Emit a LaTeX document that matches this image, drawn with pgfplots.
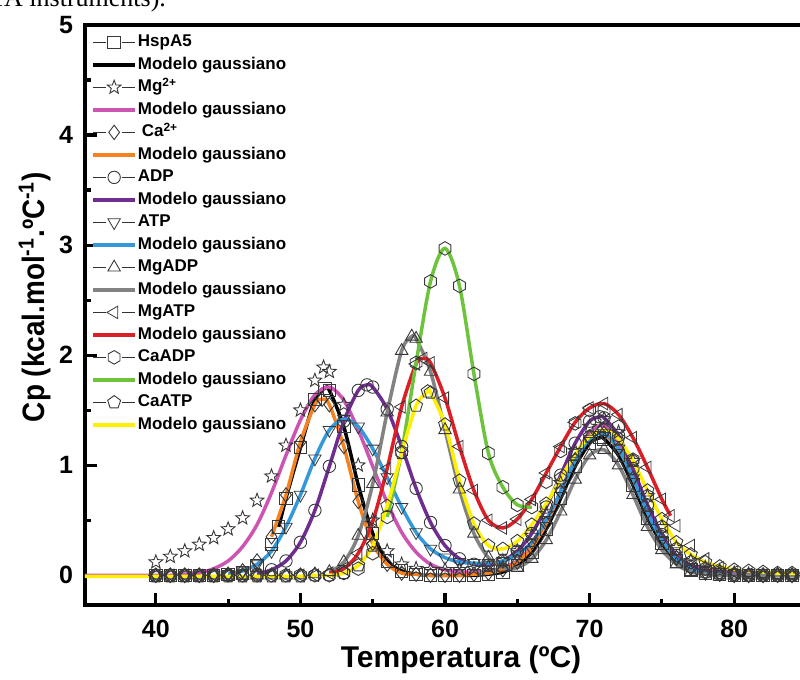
\documentclass[border=0pt]{standalone}
\usepackage{fontspec}
\setmainfont{Liberation Sans}
\newfontfamily\capfont{Liberation Serif}
\newfontfamily\narrowbold[FakeStretch=0.9]{Liberation Sans}
\usepackage{pgfplots}
\usepackage{pgfplotstable}
\pgfplotsset{compat=1.18}

\definecolor{cmag}{RGB}{204,85,180}
\definecolor{corg}{RGB}{245,130,32}
\definecolor{cpur}{RGB}{112,45,145}
\definecolor{cblu}{RGB}{52,152,219}
\definecolor{cgry}{RGB}{130,130,130}
\definecolor{cred}{RGB}{220,30,38}
\definecolor{cgrn}{RGB}{110,195,60}
\definecolor{cyel}{RGB}{255,240,0}

% open star and hexagon marks
\pgfdeclareplotmark{ostar}{%
  \pgfpathmoveto{\pgfpointpolar{90}{\pgfplotmarksize}}%
  \pgfpathlineto{\pgfpointpolar{126}{0.42\pgfplotmarksize}}%
  \pgfpathlineto{\pgfpointpolar{162}{\pgfplotmarksize}}%
  \pgfpathlineto{\pgfpointpolar{198}{0.42\pgfplotmarksize}}%
  \pgfpathlineto{\pgfpointpolar{234}{\pgfplotmarksize}}%
  \pgfpathlineto{\pgfpointpolar{270}{0.42\pgfplotmarksize}}%
  \pgfpathlineto{\pgfpointpolar{306}{\pgfplotmarksize}}%
  \pgfpathlineto{\pgfpointpolar{342}{0.42\pgfplotmarksize}}%
  \pgfpathlineto{\pgfpointpolar{18}{\pgfplotmarksize}}%
  \pgfpathlineto{\pgfpointpolar{54}{0.42\pgfplotmarksize}}%
  \pgfpathclose\pgfusepathqstroke}
\pgfdeclareplotmark{hexa}{%
  \pgfpathmoveto{\pgfpointpolar{90}{\pgfplotmarksize}}%
  \pgfpathlineto{\pgfpointpolar{150}{\pgfplotmarksize}}%
  \pgfpathlineto{\pgfpointpolar{210}{\pgfplotmarksize}}%
  \pgfpathlineto{\pgfpointpolar{270}{\pgfplotmarksize}}%
  \pgfpathlineto{\pgfpointpolar{330}{\pgfplotmarksize}}%
  \pgfpathlineto{\pgfpointpolar{30}{\pgfplotmarksize}}%
  \pgfpathclose\pgfusepathqstroke}

\pgfplotstableread[row sep=\\]{
T C\\
35 0\\ 36 0\\ 37 0\\ 38 0\\ 39 0\\ 40 0\\ 41 0\\ 42 0\\ 43 0\\ 44 0\\ 45 0.01\\ 46 0.02\\
47 0.09\\ 48 0.28\\ 48.5 0.44\\ 49 0.70\\ 50 1.16\\ 51 1.60\\ 51.7 1.70\\ 52 1.68\\ 53 1.35\\
54 0.82\\ 55 0.38\\ 56 0.13\\ 57 0.04\\ 58 0.01\\ 59 0\\ 60 0\\ 61 0\\ 62 0\\ 63 0.01\\
64 0.03\\ 65 0.09\\ 66 0.21\\ 67 0.42\\ 68 0.70\\ 69 0.99\\ 70 1.20\\ 70.7 1.25\\ 71 1.24\\
72 1.09\\ 73 0.82\\ 74 0.52\\ 75 0.29\\ 76 0.13\\ 77 0.05\\ 78 0.02\\ 79 0.01\\ 80 0\\
81 0\\ 82 0\\ 83 0\\ 84 0\\ 85 0\\ 86 0\\
}\hsp

\pgfplotstableread[row sep=\\]{
T C\\
35 -0.04\\ 36 0\\ 37 0.03\\ 38 0.06\\ 39 0.09\\ 40 0.12\\ 41 0.17\\ 42 0.22\\ 43 0.28\\
44 0.34\\ 45 0.42\\ 46 0.52\\ 47 0.68\\ 48 0.90\\ 49 1.18\\ 50 1.50\\ 51 1.77\\ 51.6 1.89\\
52 1.85\\ 53 1.55\\ 54 1.00\\ 55 0.50\\ 56 0.22\\ 57 0.10\\ 58 0.06\\ 59 0.05\\ 60 0.05\\
61 0.05\\ 62 0.06\\ 63 0.08\\ 64 0.13\\ 65 0.22\\ 66 0.36\\ 67 0.56\\ 68 0.84\\ 69 1.13\\
70 1.35\\ 71 1.42\\ 72 1.30\\ 73 1.04\\ 74 0.72\\ 75 0.44\\ 76 0.25\\ 77 0.13\\ 78 0.07\\
79 0.04\\ 80 0.02\\ 81 0.01\\ 82 0\\ 83 0\\ 84 0\\ 85 0\\ 86 0\\
}\mgdata

\pgfplotstableread[row sep=\\]{
T C\\
35 0\\ 36 0\\ 37 0\\ 38 0\\ 39 0\\ 40 0\\ 41 0\\ 42 0.01\\ 43 0.02\\ 44 0.06\\ 45 0.13\\
46 0.26\\ 47 0.46\\ 48 0.75\\ 49 1.09\\ 50 1.41\\ 51 1.64\\ 52 1.71\\ 53 1.59\\ 54 1.32\\
55 0.99\\ 56 0.66\\ 57 0.39\\ 58 0.21\\ 59 0.10\\ 60 0.05\\ 61 0.03\\ 62 0.03\\ 63 0.04\\
64 0.07\\ 65 0.13\\ 66 0.26\\ 67 0.47\\ 68 0.76\\ 69 1.07\\ 70 1.30\\ 71 1.36\\ 72 1.21\\
73 0.92\\ 74 0.60\\ 75 0.34\\ 76 0.17\\ 77 0.09\\ 78 0.05\\ 79 0.03\\ 80 0.02\\ 81 0.01\\
82 0\\ 83 0\\ 84 0\\ 85 0\\ 86 0\\
}\mgfit

\pgfplotstableread[row sep=\\]{
T C\\
35 0\\ 36 0\\ 37 0\\ 38 0\\ 39 0\\ 40 0\\ 41 0\\ 42 0\\ 43 0\\ 44 0\\ 45 0.01\\ 46 0.04\\
47 0.13\\ 48 0.35\\ 49 0.73\\ 50 1.21\\ 51 1.55\\ 51.5 1.60\\ 52 1.55\\ 53 1.17\\ 54 0.67\\
55 0.29\\ 56 0.10\\ 57 0.02\\ 58 0.01\\ 59 0\\ 60 0\\ 61 0\\ 62 0.01\\ 63 0.02\\ 64 0.05\\
65 0.12\\ 66 0.25\\ 67 0.47\\ 68 0.76\\ 69 1.05\\ 70 1.25\\ 70.7 1.30\\ 71 1.29\\ 72 1.15\\
73 0.88\\ 74 0.58\\ 75 0.33\\ 76 0.16\\ 77 0.07\\ 78 0.03\\ 79 0.01\\ 80 0\\ 81 0\\ 82 0\\
83 0\\ 84 0\\ 85 0\\ 86 0\\
}\ca

\pgfplotstableread[row sep=\\]{
T C\\
35 0\\ 36 0\\ 37 0\\ 38 0\\ 39 0\\ 40 0\\ 41 0\\ 42 0\\ 43 0\\ 44 0\\ 45 0\\ 46 0\\
47 0.01\\ 48 0.05\\ 49 0.13\\ 50 0.30\\ 51 0.59\\ 52 0.99\\ 53 1.40\\ 54 1.68\\ 54.6 1.73\\
55 1.71\\ 56 1.51\\ 57 1.17\\ 58 0.79\\ 59 0.48\\ 60 0.27\\ 61 0.15\\ 62 0.10\\ 63 0.09\\
64 0.13\\ 65 0.22\\ 66 0.38\\ 67 0.62\\ 68 0.91\\ 69 1.20\\ 70 1.40\\ 70.7 1.44\\ 71 1.43\\
72 1.27\\ 73 0.97\\ 74 0.64\\ 75 0.37\\ 76 0.18\\ 77 0.08\\ 78 0.03\\ 79 0.01\\ 80 0\\
81 0\\ 82 0\\ 83 0\\ 84 0\\ 85 0\\ 86 0\\
}\adp

\pgfplotstableread[row sep=\\]{
T C\\
35 0\\ 36 0\\ 37 0\\ 38 0\\ 39 0\\ 40 0\\ 41 0\\ 42 0\\ 43 0\\ 44 0\\ 45 0.01\\ 46 0.04\\
47 0.10\\ 48 0.22\\ 49 0.44\\ 50 0.73\\ 51 1.06\\ 52 1.32\\ 53 1.42\\ 54 1.35\\ 55 1.15\\
56 0.89\\ 57 0.62\\ 58 0.39\\ 59 0.24\\ 60 0.16\\ 61 0.12\\ 62 0.11\\ 63 0.11\\ 64 0.13\\
65 0.19\\ 66 0.30\\ 67 0.50\\ 68 0.76\\ 69 1.04\\ 70 1.24\\ 71 1.29\\ 72 1.15\\ 73 0.88\\
74 0.57\\ 75 0.32\\ 76 0.15\\ 77 0.06\\ 78 0.02\\ 79 0.01\\ 80 0\\ 81 0\\ 82 0\\ 83 0\\
84 0\\ 85 0\\ 86 0\\
}\atp

\pgfplotstableread[row sep=\\]{
T C\\
35 0\\ 36 0\\ 37 0\\ 38 0\\ 39 0\\ 40 0\\ 41 0\\ 42 0\\ 43 0\\ 44 0\\ 45 0\\ 46 0\\ 47 0\\
48 0\\ 49 0\\ 50 0\\ 51 0.01\\ 52 0.03\\ 53 0.12\\ 54 0.36\\ 55 0.83\\ 56 1.48\\ 57 2.04\\
57.7 2.17\\ 58 2.15\\ 59 1.85\\ 60 1.32\\ 61 0.78\\ 62 0.38\\ 63 0.16\\ 64 0.07\\ 65 0.07\\
66 0.15\\ 67 0.32\\ 68 0.58\\ 69 0.87\\ 70 1.09\\ 71 1.14\\ 72 1.00\\ 73 0.73\\ 74 0.44\\
75 0.23\\ 76 0.10\\ 77 0.03\\ 78 0.01\\ 79 0\\ 80 0\\ 81 0\\ 82 0\\ 83 0\\ 84 0\\ 85 0\\ 86 0\\
}\mgadp

\pgfplotstableread[row sep=\\]{
T C\\
35 0\\ 36 0\\ 37 0\\ 38 0\\ 39 0\\ 40 0\\ 41 0\\ 42 0\\ 43 0\\ 44 0\\ 45 0\\ 46 0\\ 47 0\\
48 0\\ 49 0\\ 50 0\\ 51 0\\ 52 0.02\\ 53 0.06\\ 54 0.20\\ 55 0.49\\ 56 0.97\\ 57 1.53\\
58 1.92\\ 58.5 1.97\\ 59 1.93\\ 60 1.61\\ 61 1.17\\ 62 0.77\\ 63 0.50\\ 64 0.43\\ 65 0.51\\
66 0.69\\ 67 0.93\\ 68 1.17\\ 69 1.39\\ 70 1.52\\ 71 1.56\\ 72 1.46\\ 73 1.25\\ 74 0.98\\
75 0.69\\ 75.6 0.54\\ 76 0.45\\ 77 0.27\\ 78 0.15\\ 79 0.07\\ 80 0.03\\ 81 0.01\\ 82 0\\
83 0\\ 84 0\\ 85 0\\ 86 0\\
}\mgatp

\pgfplotstableread[row sep=\\]{
T C\\
35 0\\ 36 0\\ 37 0\\ 38 0\\ 39 0\\ 40 0\\ 41 0\\ 42 0\\ 43 0\\ 44 0\\ 45 0\\ 46 0\\ 47 0\\
48 0\\ 49 0\\ 50 0\\ 51 0\\ 52 0\\ 53 0.02\\ 54 0.06\\ 55 0.20\\ 56 0.53\\ 57 1.12\\ 58 1.93\\
59 2.67\\ 60 2.97\\ 61 2.63\\ 62 1.83\\ 63 1.11\\ 64 0.80\\ 65 0.64\\ 66 0.62\\ 67 0.85\\
68 1.13\\ 69 1.38\\ 70 1.50\\ 71 1.50\\ 72 1.35\\ 73 1.05\\ 74 0.72\\ 75 0.44\\ 76 0.24\\
77 0.12\\ 78 0.06\\ 79 0.03\\ 80 0.01\\ 81 0\\ 82 0\\ 83 0\\ 84 0\\ 85 0\\ 86 0\\
}\caadp

\pgfplotstableread[row sep=\\]{
T C\\
35 -0.01\\ 36 -0.01\\ 37 -0.01\\ 38 -0.01\\ 39 -0.01\\ 40 -0.01\\ 41 -0.01\\ 42 -0.01\\
43 -0.01\\ 44 -0.01\\ 45 -0.01\\ 46 -0.01\\ 47 -0.01\\ 48 -0.01\\ 49 -0.01\\ 50 -0.01\\
51 0\\ 52 0\\ 53 0.02\\ 54 0.09\\ 55 0.27\\ 56 0.63\\ 57 1.11\\ 58 1.54\\ 58.8 1.67\\
59 1.66\\ 60 1.37\\ 61 0.86\\ 62 0.47\\ 63 0.27\\ 64 0.24\\ 65 0.31\\ 66 0.46\\ 67 0.65\\
68 0.88\\ 69 1.10\\ 70 1.26\\ 71 1.32\\ 72 1.24\\ 73 1.04\\ 74 0.77\\ 75 0.51\\ 76 0.30\\
77 0.19\\ 78 0.12\\ 79 0.08\\ 80 0.05\\ 81 0.04\\ 82 0.03\\ 83 0.02\\ 84 0.02\\ 85 0.01\\
86 0.01\\
}\caatp

\pgfplotsset{
  dat/.style={only marks, color=black!78, mark size=3.1pt,
    mark options={line width=0.45pt, solid}, restrict x to domain=39.5:86.5,
    legend image code/.code={
      \draw[black!80, line width=0.6pt] (0pt,0pt) -- (6.5pt,0pt) (14.5pt,0pt) -- (21pt,0pt);
      \draw[##1] plot coordinates {(10.5pt,0pt)};}},
  fit/.style={no marks, smooth, line width=1.75pt,
    legend image code/.code={\draw[##1] (0pt,0pt) -- (21pt,0pt);}},
}

\begin{document}
\begin{tikzpicture}
\useasboundingbox (-42.5pt,-37.5pt) rectangle (357.5pt,302.5pt);
\node[anchor=base west, inner sep=0pt, font=\capfont\fontsize{13}{13}\selectfont]
  at (-47.5pt,299pt) {TA instruments).};
\begin{axis}[
  scale only axis, width=368.7pt, height=290pt,
  xmin=35.1, xmax=86.1, ymin=-0.27, ymax=5,
  xtick={40,50,60,70,80}, ytick={0,1,2,3,4,5},
  minor x tick num=1, minor y tick num=1,
  xtick pos=bottom, ytick pos=left, tick align=inside,
  major tick length=6pt, minor tick length=3pt,
  every tick/.style={black, line width=1.6pt},
  axis line style={line width=2pt},
  /pgf/number format/assume math mode=true,
  ticklabel style={font=\bfseries\fontsize{12.5}{13}\selectfont},
  xticklabel style={yshift=-4pt},
  yticklabel style={xshift=-2.5pt},
  xlabel={Temperatura (ºC)},
  ylabel={Cp (kcal.mol\textsuperscript{-1}.ºC\textsuperscript{-1})},
  xlabel style={at={(axis description cs:0.51,-0.058)}, anchor=north,
    font=\bfseries\fontsize{15}{16}\selectfont},
  ylabel style={at={(axis description cs:-0.0372,0.531)}, anchor=south,
    font=\narrowbold\bfseries\fontsize{15.5}{16}\selectfont},
  legend cell align=left,
  legend style={draw=none, fill=none, at={(0,1)}, anchor=north west,
    xshift=3pt, yshift=-3.75pt, inner sep=0pt, row sep=1.75pt,
    nodes={inner sep=0.5pt, text height=6.5pt, text depth=2pt},
    font=\bfseries\fontsize{8.5}{9}\selectfont},
]
\addplot[dat, mark=square] table[x=T, y=C] {\hsp};
\addlegendentry{HspA5}
\addplot[fit, black, restrict x to domain=48.5:86.5] table[x=T, y=C] {\hsp};
\addlegendentry{Modelo gaussiano}
\addplot[dat, mark=ostar, mark size=3.6pt, restrict x to domain=34:86.5] table[x=T, y=C] {\mgdata};
\addlegendentry{Mg\textsuperscript{2+}}
\addplot[fit, cmag] table[x=T, y=C] {\mgfit};
\addlegendentry{Modelo gaussiano}
\addplot[dat, mark=diamond, mark size=3.6pt] table[x=T, y=C] {\ca};
\addlegendentry{\hspace{2pt}Ca\textsuperscript{2+}}
\addplot[fit, corg, restrict x to domain=48:86.5] table[x=T, y=C] {\ca};
\addlegendentry{Modelo gaussiano}
\addplot[dat, mark=o] table[x=T, y=C] {\adp};
\addlegendentry{ADP}
\addplot[fit, cpur, restrict x to domain=47:86.5] table[x=T, y=C] {\adp};
\addlegendentry{Modelo gaussiano}
\addplot[dat, mark=triangle, mark size=3.6pt, mark options={rotate=180}] table[x=T, y=C] {\atp};
\addlegendentry{ATP}
\addplot[fit, cblu, restrict x to domain=45:86.5] table[x=T, y=C] {\atp};
\addlegendentry{Modelo gaussiano}
\addplot[dat, mark=triangle, mark size=3.6pt] table[x=T, y=C] {\mgadp};
\addlegendentry{MgADP}
\addplot[fit, cgry, restrict x to domain=52:86.5] table[x=T, y=C] {\mgadp};
\addlegendentry{Modelo gaussiano}
\addplot[dat, mark=triangle, mark size=3.6pt, mark options={rotate=90}] table[x=T, y=C] {\mgatp};
\addlegendentry{MgATP}
\addplot[fit, cred, restrict x to domain=52:75.6] table[x=T, y=C] {\mgatp};
\addlegendentry{Modelo gaussiano}
\addplot[dat, mark=hexa, mark size=3.4pt] table[x=T, y=C] {\caadp};
\addlegendentry{CaADP}
\addplot[fit, cgrn, restrict x to domain=56:66] table[x=T, y=C] {\caadp};
\addlegendentry{Modelo gaussiano}
\addplot[dat, mark=pentagon, mark size=3.4pt] table[x=T, y=C] {\caatp};
\addlegendentry{CaATP}
\addplot[fit, cyel, restrict x to domain=34:86.5] table[x=T, y=C] {\caatp};
\addlegendentry{Modelo gaussiano}
\end{axis}
\end{tikzpicture}
\end{document}
